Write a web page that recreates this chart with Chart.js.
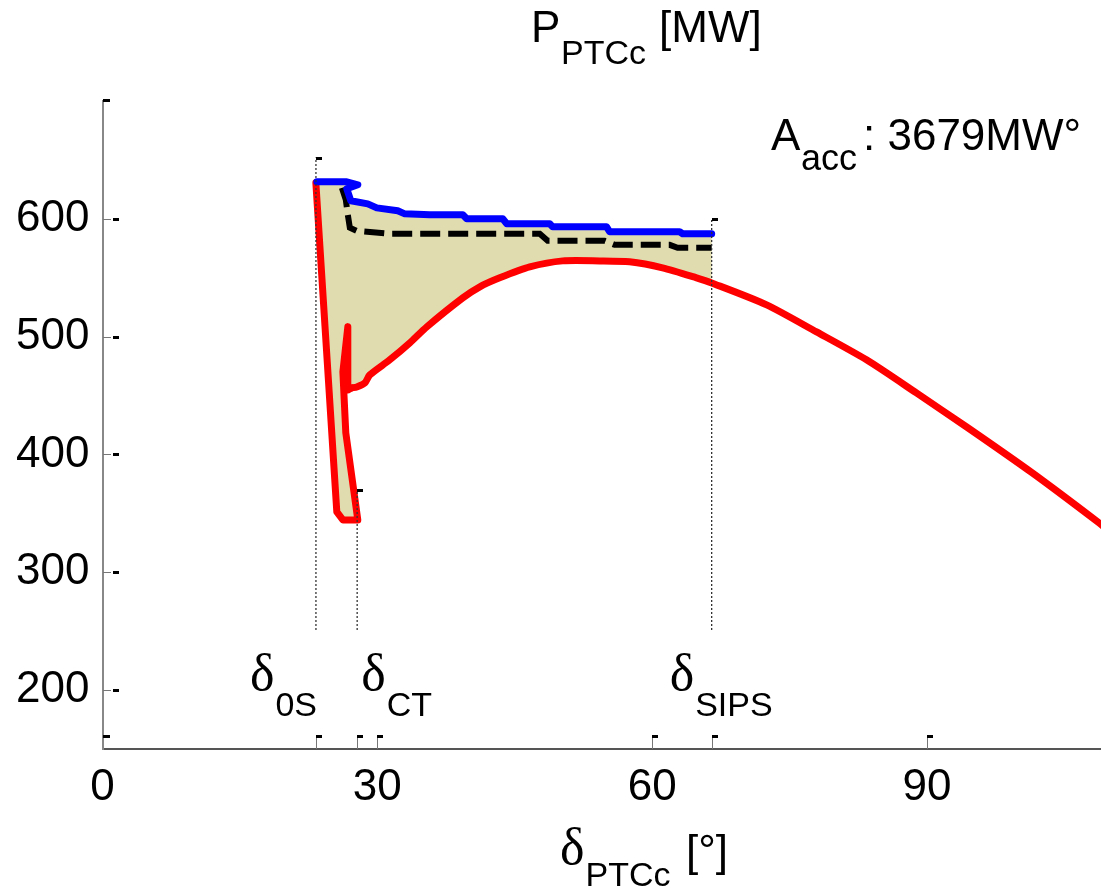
<!DOCTYPE html>
<html><head><meta charset="utf-8">
<script src="https://cdn.jsdelivr.net/npm/chart.js@4"></script>
<style>html,body{margin:0;padding:0;background:#fff}canvas{display:block}</style>
</head><body>
<canvas id="c" width="1101" height="888"></canvas>
<script>
// ---------- data ----------
const xTicks = [0, 30, 60, 90];
const yTicks = [200, 300, 400, 500, 600];
const xRange = [0, 109];
const yRange = [150, 700];

// electrical power trajectory (red): fault loop, then post-fault curve
const redLoopDelta = [23.29, 25.58, 26.24, 27.87, 26.56, 26.24, 26.78, 26.78, 27.22];
const redLoopP     = [630.6, 351.2, 344.4, 344.4, 418.3, 470.1, 508.3, 454.8, 456.5];
const redCurveDelta = [27.22, 27.76, 28.64, 29.18, 31.36, 33.55, 35.4, 39.33, 41.19, 43.36, 46.64, 50.24, 54.27, 57.54, 61.14, 64.85, 66.5, 72.5, 77.95, 83.4, 88.85, 94.3, 101.5, 108.8, 110];
const redCurveP     = [456.5, 457.3, 460.7, 467.5, 480.3, 494.7, 508.3, 532.9, 542.3, 549.9, 559.2, 564.3, 564.3, 563.5, 558.4, 549.9, 545.6, 527, 504, 480.3, 452.2, 423.5, 384.3, 341.8, 334];

// mechanical power (blue)
const blueDelta = [23.4, 26.67, 27.87, 26.67, 27.11, 28.96, 29.94, 32.23, 33.0, 35.73, 39.33, 39.76, 43.69, 44.13, 48.82, 49.14, 55.03, 55.36, 63.0, 63.33, 66.5];
const blueP     = [631.4, 631.4, 628.9, 625.5, 615.3, 612.7, 609.3, 606.8, 604.2, 603.4, 603.4, 600, 600, 595.8, 595.8, 593.2, 593.2, 589, 589, 587.3, 587.3];

// dashed black
const dashDelta = [26.13, 26.56, 26.78, 27.0, 27.76, 31.36, 47.73, 48.6, 54.82, 55.91, 61.91, 62.78, 66.5];
const dashP     = [626.3, 616.1, 603.4, 592.4, 589.8, 587.3, 587.3, 581.3, 581.3, 577.9, 577.9, 575.4, 575.4];

// angle markers
const markerLabels = ['0S', 'CT', 'SIPS'];
const markerDelta = [23.3, 27.8, 66.5];
const markerTop = [652, 370, 600];
const markerBottom = 251;

const areaName = 'A';
const areaSub = 'acc';
const areaText = ': 3679MW°';
const titleMain = 'P', titleSub = 'PTCc', titleUnit = '[MW]';
const xTitleSub = 'PTCc', xTitleUnit = '[°]';

// ---------- style / layout ----------
const SANS = '"Liberation Sans", Arial, sans-serif';
const SERIF = '"Liberation Serif", "Times New Roman", serif';
const LABEL_DX = [-66, 4, -42];
const FILL = 'rgb(225,220,176)';

const toPts = (xs, ys) => xs.map((v, i) => ({x: v, y: ys[i]}));

// fill polygon: red path up to SIPS, then blue path back
const sipsIdx = redCurveDelta.indexOf(markerDelta[2]);
const fillDelta = redLoopDelta.concat(redCurveDelta.slice(1, sipsIdx + 1), blueDelta.slice().reverse());
const fillP = redLoopP.concat(redCurveP.slice(1, sipsIdx + 1), blueP.slice().reverse());

const markerSets = markerDelta.map((d, i) => ({
  data: toPts([d, d], [markerBottom, markerTop[i]]),
  borderColor: '#333', borderWidth: 1.3, borderDash: [2, 2],
  pointRadius: 0, fill: false
}));

function txt(ctx, s, x, y, size, fam) {
  ctx.font = size + 'px ' + fam;
  ctx.fillText(s, x, y);
  return ctx.measureText(s).width;
}

const decor = {
  id: 'decor',
  afterDraw(chart) {
    const {ctx, chartArea: ca} = chart;
    const xs = chart.scales.x, ys = chart.scales.y;
    ctx.save();
    ctx.fillStyle = '#000';
    ctx.textAlign = 'left';
    ctx.textBaseline = 'alphabetic';
    // title
    txt(ctx, titleMain, 531, 42, 44, SANS);
    txt(ctx, titleSub, 561, 64, 34, SANS);
    txt(ctx, titleUnit, 659, 42, 44, SANS);
    // area annotation
    txt(ctx, areaName, 771, 150, 44, SANS);
    txt(ctx, areaSub, 801, 170, 36, SANS);
    txt(ctx, areaText, 863, 150, 44, SANS);
    // marker labels
    markerLabels.forEach((lab, i) => {
      const px = xs.getPixelForValue(markerDelta[i]) + LABEL_DX[i];
      const w = txt(ctx, 'δ', px, 690, 52, SERIF);
      txt(ctx, lab, px + w + 1, 716, 34, SANS);
    });
    // x title
    const w = txt(ctx, 'δ', 560, 864, 52, SERIF);
    txt(ctx, xTitleSub, 560 + w + 1, 886, 34, SANS);
    txt(ctx, xTitleUnit, 686, 866, 44, SANS);

    // small tick flags
    const bottom = Math.round(ca.bottom), left = Math.round(ca.left);
    const xflag = v => {
      const px = Math.round(xs.getPixelForValue(v));
      ctx.fillStyle = '#777'; ctx.fillRect(px, bottom - 13, 1, 13);
      ctx.fillStyle = '#000'; ctx.fillRect(px, bottom - 14, 6, 3);
    };
    xTicks.slice(1).forEach(xflag);
    markerDelta.forEach(xflag);
    ctx.fillStyle = '#000';
    ctx.fillRect(left, bottom - 14, 7, 3);
    yTicks.forEach(v => {
      const py = Math.round(ys.getPixelForValue(v));
      ctx.fillStyle = '#777'; ctx.fillRect(left, py, 8, 1);
      ctx.fillStyle = '#000'; ctx.fillRect(left + 10, py - 1, 6, 3);
    });
    ctx.fillRect(left, Math.round(ca.top) - 2, 7, 3);
    markerDelta.forEach((d, i) => {
      const px = Math.round(xs.getPixelForValue(d));
      const py = Math.round(ys.getPixelForValue(markerTop[i]));
      ctx.fillRect(px, py - 1, 6, 3);
    });
    ctx.restore();
  }
};

new Chart(document.getElementById('c'), {
  type: 'line',
  data: {
    datasets: [
      ...markerSets,
      { data: toPts(blueDelta, blueP), borderColor: '#0000ff', borderWidth: 7, pointRadius: 0, fill: false, borderJoinStyle: 'round', borderCapStyle: 'round' },
      { data: toPts(redLoopDelta, redLoopP), borderColor: '#ff0000', borderWidth: 7, pointRadius: 0, fill: false, borderJoinStyle: 'round', borderCapStyle: 'round' },
      { data: toPts(redCurveDelta, redCurveP), borderColor: '#ff0000', borderWidth: 7, pointRadius: 0, fill: false, borderJoinStyle: 'round', borderCapStyle: 'round', tension: 0.25 },
      { data: toPts(dashDelta, dashP), borderColor: '#000', borderWidth: 6, borderDash: [20, 8], pointRadius: 0, fill: false },
      { data: toPts(fillDelta, fillP), borderWidth: 0, borderColor: 'rgba(0,0,0,0)', backgroundColor: FILL, pointRadius: 0, fill: 'shape' }
    ]
  },
  options: {
    responsive: false,
    animation: false,
    devicePixelRatio: 1,
    layout: { padding: { top: 101, right: 0, left: 0, bottom: 0 } },
    plugins: { legend: { display: false }, tooltip: { enabled: false }, title: { display: false } },
    elements: { line: { tension: 0 } },
    scales: {
      x: {
        type: 'linear', min: xRange[0], max: xRange[1],
        grid: { display: false, drawTicks: false },
        border: { display: true, color: '#555', width: 2 },
        ticks: { color: '#000', font: { family: SANS, size: 44 }, padding: 12, maxRotation: 0 },
        afterBuildTicks: s => { s.ticks = xTicks.map(v => ({value: v})); },
        afterFit: s => { s.height = 139; }
      },
      y: {
        type: 'linear', min: yRange[0], max: yRange[1],
        grid: { display: false, drawTicks: false },
        border: { display: true, color: '#888', width: 2 },
        ticks: { color: '#000', font: { family: SANS, size: 44 }, padding: 13 },
        afterBuildTicks: s => { s.ticks = yTicks.map(v => ({value: v})); },
        afterFit: s => { s.width = 102.5; }
      }
    }
  },
  plugins: [decor]
});
</script>
</body></html>
